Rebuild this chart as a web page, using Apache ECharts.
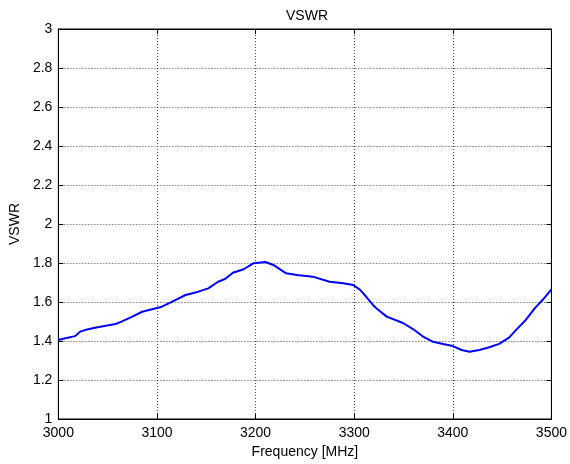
<!DOCTYPE html>
<html>
<head>
<meta charset="utf-8">
<script src="https://cdn.jsdelivr.net/npm/echarts@6/dist/echarts.min.js"></script>
<style>html,body{margin:0;padding:0;background:#fff;}#c{width:570px;height:464px;}</style>
</head>
<body>
<div id="c"></div>
<script>
var freq = [3000,3007,3017,3022,3027,3037,3048,3058,3064,3075,3085,3098,3105,3115,3129,3142,3152,3162,3169,3177,3188,3198,3210,3218,3231,3242,3258,3275,3289,3299,3306,3312,3319,3323,3333,3350,3360,3370,3380,3390,3400,3409,3417,3427,3437,3447,3457,3464,3474,3483,3491,3500];
var vswr = [1.405,1.414,1.425,1.448,1.456,1.468,1.478,1.487,1.499,1.525,1.550,1.567,1.576,1.601,1.636,1.653,1.670,1.704,1.718,1.750,1.768,1.799,1.805,1.790,1.747,1.739,1.730,1.704,1.696,1.687,1.662,1.628,1.585,1.565,1.525,1.491,1.460,1.422,1.396,1.385,1.374,1.354,1.345,1.354,1.368,1.385,1.417,1.456,1.508,1.567,1.610,1.665];
var xTicks = [3000,3100,3200,3300,3400,3500];
var yTicks = [1,1.2,1.4,1.6,1.8,2,2.2,2.4,2.6,2.8,3];

var pts = freq.map(function(f,i){return [f, vswr[i]];});
var font = 'Liberation Sans, Arial, sans-serif';
var chart = echarts.init(document.getElementById('c'));
function tickAxis(extra){
  return Object.assign({
    axisLine:{show:true,lineStyle:{color:'#000',width:1}},
    axisTick:{show:true,inside:true,length:5,lineStyle:{color:'#000'}},
    axisLabel:{show:false},
    splitLine:{show:false}
  }, extra);
}
chart.setOption({
  animation:false,
  backgroundColor:'#fff',
  title:{text:'VSWR',left:281,top:4,textStyle:{fontFamily:font,fontSize:14,fontWeight:'normal',color:'#000'}},
  grid:{left:58,right:17,top:29,bottom:45,show:true,borderColor:'#000',borderWidth:1},
  xAxis:[{
    type:'value',min:xTicks[0],max:xTicks[xTicks.length-1],interval:100,
    name:'Frequency [MHz]',nameLocation:'middle',nameGap:26,
    nameTextStyle:{fontFamily:font,fontSize:14,color:'#000'},
    axisLine:{show:true,lineStyle:{color:'#000',width:1}},
    axisTick:{show:true,inside:true,length:5,lineStyle:{color:'#000'}},
    axisLabel:{fontFamily:font,fontSize:14,color:'#000',margin:7,
      formatter:function(v){return String(v);}},
    splitLine:{show:true,lineStyle:{color:'#444',type:[1,2],width:1}}
  }, tickAxis({type:'value',position:'top',min:xTicks[0],max:xTicks[xTicks.length-1],interval:100})],
  yAxis:[{
    type:'value',min:yTicks[0],max:yTicks[yTicks.length-1],interval:0.2,
    name:'VSWR',nameLocation:'middle',nameGap:36,
    nameTextStyle:{fontFamily:font,fontSize:14,color:'#000'},
    axisLine:{show:true,lineStyle:{color:'#000',width:1}},
    axisTick:{show:true,inside:true,length:5,lineStyle:{color:'#000'}},
    axisLabel:{fontFamily:font,fontSize:14,color:'#000',margin:6,
      formatter:function(v){return String(Math.round(v*10)/10);}},
    splitLine:{show:true,lineStyle:{color:'#444',type:[1,2],width:1}}
  }, tickAxis({type:'value',position:'right',min:yTicks[0],max:yTicks[yTicks.length-1],interval:0.2})],
  series:[{
    type:'line',data:pts,showSymbol:false,smooth:false,
    lineStyle:{color:'#0000ff',width:2},itemStyle:{color:'#0000ff'}
  }]
});
</script>
</body>
</html>
